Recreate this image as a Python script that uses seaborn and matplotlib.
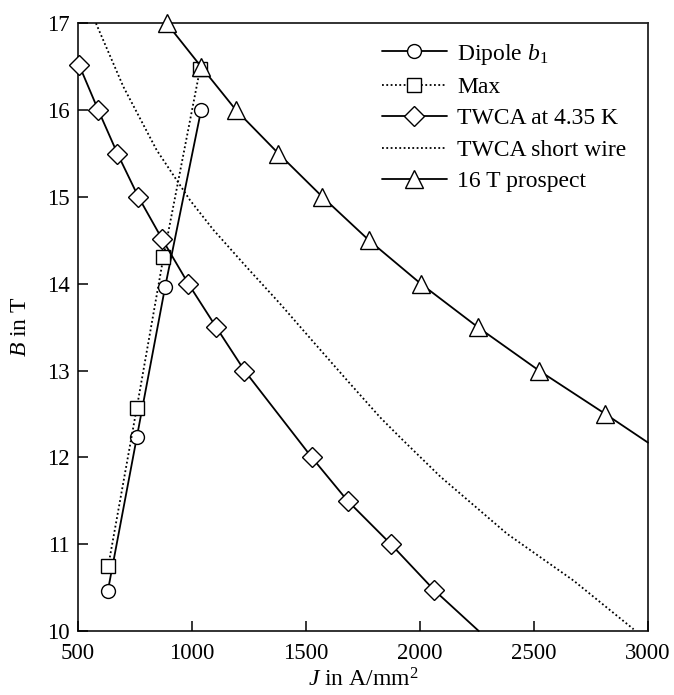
import matplotlib
matplotlib.use("Agg")
import matplotlib.pyplot as plt
import seaborn as sns
import pandas as pd

# ---- data ----
dipole_J = [632, 759, 883, 1041]
dipole_B = [10.46, 12.23, 13.96, 16.0]

max_J = [634, 759, 876, 1036]
max_B = [10.75, 12.57, 14.31, 16.47]

twca_J = [506, 590, 674, 766, 871, 985, 1107, 1231, 1526, 1683, 1873, 2063, 2258]
twca_B = [16.52, 16.0, 15.5, 15.0, 14.51, 14.0, 13.5, 13.0, 12.0, 11.5, 11.0, 10.47, 10.0]
twca_marked = 12  # number of marked points (last point is line end)

short_J = [580, 700, 846, 993, 1095, 1241, 1387, 1533, 1680, 1826, 1921, 2089,
           2382, 2674, 2937]
short_B = [17.0, 16.27, 15.54, 14.96, 14.62, 14.19, 13.77, 13.33, 12.89, 12.46, 12.21,
           11.78, 11.12, 10.58, 10.02]

prosp_J = [890, 1041, 1194, 1380, 1573, 1777, 2004, 2254, 2522, 2813, 3000]
prosp_B = [17.0, 16.5, 16.0, 15.5, 15.0, 14.5, 14.0, 13.5, 13.0, 12.5, 12.17]
prosp_marked = 10

labels = ["Dipole $b_1$", "Max", "TWCA at 4.35 K", "TWCA short wire", "16 T prospect"]
x_ticks = [500, 1000, 1500, 2000, 2500, 3000]
y_ticks = [10, 11, 12, 13, 14, 15, 16, 17]

sns.set_theme(style="white")
plt.rcParams["font.family"] = ["Liberation Serif", "DejaVu Serif"]
plt.rcParams["mathtext.fontset"] = "custom"
plt.rcParams["mathtext.rm"] = "Liberation Serif"
plt.rcParams["mathtext.it"] = "Liberation Serif:italic"

fig = plt.figure(figsize=(6.74, 6.95), dpi=100)
ax = fig.add_axes([0.1153, 0.0921, 0.8461, 0.8744])

fs = 16.5
lfs = 17
lw = 1.3
dot = (0, (1, 1.4))
mk = dict(markerfacecolor="white", markeredgecolor="black", markeredgewidth=1.0,
          clip_on=False)

sns.lineplot(x=dipole_J, y=dipole_B, sort=False, estimator=None, ax=ax,
             color="black", lw=lw, marker="o", markersize=10, label=labels[0], **mk)
sns.lineplot(x=max_J, y=max_B, sort=False, estimator=None, ax=ax,
             color="black", lw=1.3, linestyle=dot, marker="s", markersize=9.5,
             label=labels[1], **mk)
sns.lineplot(x=twca_J, y=twca_B, sort=False, estimator=None, ax=ax,
             color="black", lw=lw, marker="D", markersize=10.5,
             markevery=list(range(twca_marked)), label=labels[2], **mk)
sns.lineplot(x=short_J, y=short_B, sort=False, estimator=None, ax=ax,
             color="black", lw=1.3, linestyle=dot, label=labels[3], clip_on=False)
sns.lineplot(x=prosp_J, y=prosp_B, sort=False, estimator=None, ax=ax,
             color="black", lw=lw, marker="^", markersize=13,
             markevery=list(range(prosp_marked)), label=labels[4], **mk)

ax.set_xlim(500, 3000)
ax.set_ylim(10, 17)
ax.set_xticks(x_ticks)
ax.set_yticks(y_ticks)
ax.tick_params(axis="both", which="both", direction="in", length=7, width=1.1,
               labelsize=fs, color="black", labelcolor="black",
               bottom=True, left=True, top=False, right=False)
ax.tick_params(axis="x", pad=9)
ax.tick_params(axis="y", pad=6)
for s in ax.spines.values():
    s.set_visible(True)
    s.set_color("#222222")
    s.set_linewidth(1.3)
    s.set_zorder(0.5)

ax.set_xlabel("$J$ in A/mm$^2$", fontsize=lfs, color="black", labelpad=3)
ax.set_ylabel("$B$ in T", fontsize=lfs, color="black", labelpad=11)

leg = ax.legend(loc="upper left", bbox_to_anchor=(0.533, 0.970), frameon=False,
                fontsize=lfs, handlelength=2.75, handletextpad=0.45,
                labelspacing=0.42, borderpad=0, borderaxespad=0)
for t in leg.get_texts():
    t.set_color("black")

fig.savefig("out.png", dpi=100)
